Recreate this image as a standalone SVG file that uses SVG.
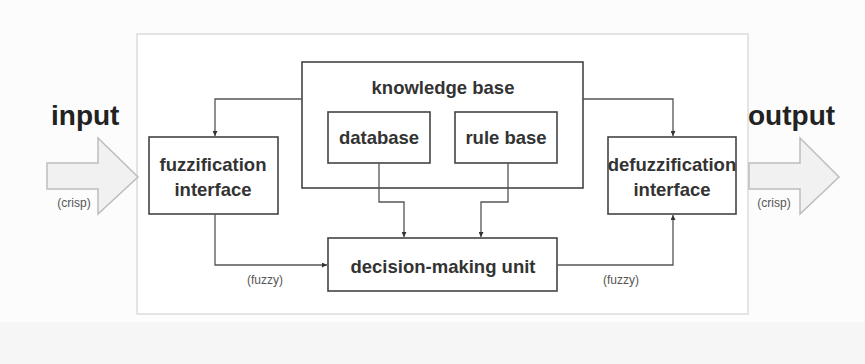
<svg xmlns="http://www.w3.org/2000/svg" width="865" height="364" viewBox="0 0 865 364">
<defs>
<marker id="ah" viewBox="0 0 6 6" refX="6" refY="3" markerWidth="5" markerHeight="5" orient="auto" markerUnits="userSpaceOnUse">
<path d="M0,0 L6,3 L0,6 Z" fill="#333"/>
</marker>
<style>
.box{fill:#fff;stroke:#444;stroke-width:1.6}
.lbl{font-family:"Liberation Sans",Arial,sans-serif;font-weight:bold;font-size:18.5px;fill:#333;text-anchor:middle}
.big{font-family:"Liberation Sans",Arial,sans-serif;font-weight:bold;font-size:28px;fill:#222}
.sm{font-family:"Liberation Sans",Arial,sans-serif;font-size:12px;fill:#555;text-anchor:middle}
.conn path{fill:none;stroke:#555;stroke-width:1.3;marker-end:url(#ah)}
.blk{fill:#f1f1f1;stroke:#bdbdbd;stroke-width:1.5}
</style>
</defs>
<rect x="0" y="0" width="865" height="364" fill="#fcfcfc"/>
<rect x="0" y="322" width="865" height="42" fill="#f6f6f6"/>
<rect x="137" y="34" width="611" height="280" fill="#fff" stroke="#dcdcdc" stroke-width="1.5"/>

<g id="input">
<text class="big" x="51" y="125">input</text>
<polygon class="blk" points="47,163 98,163 98,138 138,177 98,214 98,189 47,189"/>
<text class="sm" x="74" y="207">(crisp)</text>
</g>

<g id="output">
<text class="big" x="748" y="125">output</text>
<polygon class="blk" points="749,163 800,163 800,138 839,177 800,214 800,189 749,189"/>
<text class="sm" x="774" y="207">(crisp)</text>
</g>

<g id="knowledge-base">
<rect class="box" x="302" y="62" width="281" height="126"/>
<text class="lbl" x="443" y="94">knowledge base</text>
</g>

<g id="database">
<rect class="box" x="328" y="112" width="102" height="51"/>
<text class="lbl" x="379" y="144">database</text>
</g>

<g id="rule-base">
<rect class="box" x="455" y="112" width="102" height="51"/>
<text class="lbl" x="506" y="144">rule base</text>
</g>

<g id="fuzzification">
<rect class="box" x="149" y="137" width="129" height="77"/>
<text class="lbl" x="213" y="171">fuzzification</text>
<text class="lbl" x="213" y="196">interface</text>
</g>

<g id="defuzzification">
<rect class="box" x="608" y="137" width="128" height="77"/>
<text class="lbl" x="672" y="171">defuzzification</text>
<text class="lbl" x="672" y="196">interface</text>
</g>

<g id="decision">
<rect class="box" x="328" y="238" width="229" height="53"/>
<text class="lbl" x="443" y="273">decision-making unit</text>
</g>

<g id="connectors" class="conn">
<path d="M302,99 H215 V136"/>
<path d="M583,99 H673 V136"/>
<path d="M215,214 V265 H327"/>
<path d="M557,265 H673 V215"/>
<path d="M379,163 V202 H404 V237"/>
<path d="M508,163 V202 H481 V237"/>
</g>

<g id="labels">
<text class="sm" x="265" y="284">(fuzzy)</text>
<text class="sm" x="621" y="284">(fuzzy)</text>
</g>
</svg>
